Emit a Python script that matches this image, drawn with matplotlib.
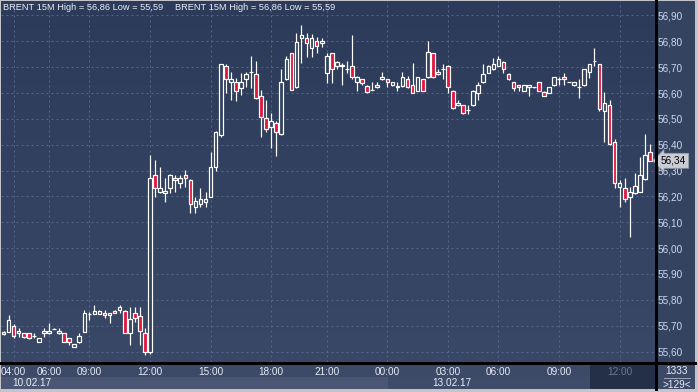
import matplotlib
matplotlib.use('Agg')
import matplotlib.pyplot as plt
import numpy as np
from matplotlib.patches import Rectangle
from matplotlib.lines import Line2D
from matplotlib.colors import LinearSegmentedColormap

plt.rcParams['font.family'] = ['Liberation Sans', 'DejaVu Sans']

# ---------------- data (15-minute BRENT candles) ----------------
opens = [55.677, 55.677, 55.699, 55.671, 55.671, 55.671, 55.661, 55.638, 55.671, 55.671,
         55.689, 55.671, 55.671, 55.651, 55.619, 55.638, 55.677, 55.744, 55.745, 55.745,
         55.749, 55.742, 55.758, 55.761, 55.758, 55.673, 55.749, 55.738, 55.671, 55.600,
         56.283, 56.218, 56.212, 56.232, 56.270, 56.251, 56.283, 56.264, 56.160, 56.170,
         56.180, 56.199, 56.315, 56.438, 56.705, 56.642, 56.644, 56.621, 56.653, 56.680,
         56.674, 56.590, 56.502, 56.470, 56.483, 56.440, 56.653, 56.754, 56.622, 56.812,
         56.812, 56.773, 56.801, 56.792, 56.679, 56.754, 56.705, 56.706, 56.692, 56.705,
         56.642, 56.653, 56.628, 56.611, 56.622, 56.653, 56.653, 56.631, 56.625, 56.628,
         56.653, 56.631, 56.609, 56.653, 56.661, 56.754, 56.673, 56.693, 56.705, 56.609,
         56.553, 56.553, 56.534, 56.553, 56.601, 56.642, 56.679, 56.692, 56.705, 56.721,
         56.674, 56.642, 56.630, 56.609, 56.622, 56.622, 56.642, 56.603, 56.601, 56.630,
         56.653, 56.661, 56.642, 56.630, 56.622, 56.630, 56.680, 56.723, 56.711, 56.532,
         56.553, 56.409, 56.238, 56.232, 56.199, 56.212, 56.218, 56.266, 56.371]
highs = [55.680, 55.741, 55.707, 55.690, 55.673, 55.673, 55.673, 55.651, 55.690, 55.709,
         55.690, 55.690, 55.673, 55.653, 55.630, 55.671, 55.761, 55.754, 55.780, 55.761,
         55.761, 55.750, 55.761, 55.780, 55.761, 55.774, 55.774, 55.774, 55.690, 56.360,
         56.341, 56.315, 56.270, 56.285, 56.283, 56.283, 56.302, 56.266, 56.199, 56.232,
         56.218, 56.373, 56.452, 56.714, 56.714, 56.683, 56.657, 56.676, 56.683, 56.743,
         56.725, 56.612, 56.573, 56.522, 56.492, 56.692, 56.743, 56.756, 56.831, 56.863,
         56.831, 56.828, 56.818, 56.812, 56.756, 56.756, 56.725, 56.717, 56.725, 56.825,
         56.666, 56.655, 56.630, 56.644, 56.644, 56.683, 56.655, 56.644, 56.644, 56.683,
         56.666, 56.715, 56.663, 56.655, 56.801, 56.756, 56.692, 56.712, 56.707, 56.611,
         56.573, 56.555, 56.553, 56.611, 56.644, 56.712, 56.707, 56.735, 56.743, 56.723,
         56.676, 56.644, 56.633, 56.633, 56.633, 56.623, 56.644, 56.609, 56.624, 56.663,
         56.661, 56.676, 56.643, 56.644, 56.653, 56.694, 56.713, 56.773, 56.713, 56.603,
         56.573, 56.421, 56.264, 56.273, 56.238, 56.292, 56.354, 56.442, 56.403]
lows = [55.665, 55.676, 55.651, 55.658, 55.651, 55.649, 55.651, 55.636, 55.658, 55.669,
        55.688, 55.669, 55.636, 55.625, 55.618, 55.632, 55.676, 55.722, 55.744, 55.744,
        55.729, 55.709, 55.749, 55.749, 55.671, 55.625, 55.716, 55.625, 55.587, 55.590,
        56.199, 56.212, 56.180, 56.212, 56.218, 56.232, 56.238, 56.137, 56.137, 56.160,
        56.160, 56.197, 56.300, 56.431, 56.601, 56.573, 56.570, 56.592, 56.625, 56.618,
        56.578, 56.431, 56.450, 56.386, 56.356, 56.438, 56.651, 56.610, 56.620, 56.715,
        56.741, 56.741, 56.754, 56.779, 56.640, 56.640, 56.692, 56.631, 56.679, 56.653,
        56.609, 56.630, 56.600, 56.610, 56.620, 56.650, 56.625, 56.628, 56.609, 56.625,
        56.620, 56.600, 56.607, 56.607, 56.660, 56.660, 56.671, 56.653, 56.601, 56.539,
        56.551, 56.520, 56.520, 56.551, 56.573, 56.640, 56.677, 56.690, 56.703, 56.679,
        56.651, 56.609, 56.609, 56.607, 56.590, 56.621, 56.607, 56.588, 56.599, 56.628,
        56.630, 56.630, 56.641, 56.628, 56.580, 56.628, 56.660, 56.705, 56.530, 56.409,
        56.400, 56.232, 56.160, 56.180, 56.042, 56.210, 56.216, 56.262, 56.336]
closes = [55.669, 55.722, 55.662, 55.681, 55.658, 55.651, 55.661, 55.651, 55.681, 55.678,
          55.689, 55.681, 55.638, 55.636, 55.629, 55.660, 55.750, 55.746, 55.758, 55.758,
          55.742, 55.749, 55.750, 55.774, 55.673, 55.725, 55.729, 55.680, 55.600, 56.270,
          56.232, 56.232, 56.221, 56.283, 56.264, 56.270, 56.270, 56.171, 56.182, 56.189,
          56.189, 56.315, 56.450, 56.712, 56.653, 56.653, 56.609, 56.644, 56.674, 56.682,
          56.580, 56.509, 56.460, 56.492, 56.450, 56.641, 56.731, 56.612, 56.799, 56.825,
          56.792, 56.812, 56.782, 56.801, 56.743, 56.692, 56.721, 56.708, 56.693, 56.661,
          56.661, 56.640, 56.603, 56.613, 56.631, 56.661, 56.642, 56.642, 56.626, 56.661,
          56.622, 56.601, 56.661, 56.609, 56.760, 56.661, 56.681, 56.694, 56.622, 56.541,
          56.563, 56.522, 56.535, 56.609, 56.631, 56.673, 56.705, 56.712, 56.731, 56.692,
          56.653, 56.621, 56.622, 56.631, 56.631, 56.622, 56.609, 56.590, 56.622, 56.661,
          56.654, 56.653, 56.642, 56.642, 56.623, 56.692, 56.711, 56.724, 56.538, 56.560,
          56.402, 56.251, 56.251, 56.189, 56.218, 56.240, 56.283, 56.360, 56.338]

time_tick_idx = [2, 9, 17, 29, 41, 53, 64, 76, 88, 98, 110, 122]
time_tick_labels = ['04:00', '06:00', '09:00', '12:00', '15:00', '18:00', '21:00',
                    '00:00', '03:00', '06:00', '09:00', '12:00']
date_labels = ['10.02.17', '13.02.17']
price_ticks = [55.60, 55.70, 55.80, 55.90, 56.00, 56.10, 56.20, 56.30, 56.40,
               56.50, 56.60, 56.70, 56.80, 56.90]
header = 'BRENT 15M High = 56,86 Low = 55,59'
bar_count = '1333'
visible = '>129<'

# ---------------- figure / layout ----------------
W, H = 698, 392
fig = plt.figure(figsize=(W / 100, H / 100), dpi=100)
fig.patch.set_facecolor('#c3c5ca')
PX = 0.72  # one pixel in points


def fr(x0, y0, x1, y1):
    return (x0 / W, 1 - y1 / H, (x1 - x0) / W, (y1 - y0) / H)


def add_rect(x0, y0, x1, y1, color, z=-1):
    l, b, w, h = fr(x0, y0, x1, y1)
    fig.patches.append(Rectangle((l, b), w, h, transform=fig.transFigure,
                                 facecolor=color, edgecolor='none', zorder=z))


def add_line(x0, y0, x1, y1, color, lw=PX, z=4):
    fig.lines.append(Line2D([x0 / W, x1 / W], [1 - y0 / H, 1 - y1 / H],
                            transform=fig.transFigure, color=color, lw=lw,
                            zorder=z, antialiased=False))


BG = '#34435f'
add_rect(655, 1, 695, 362, BG)
add_rect(1, 362, 655, 377, '#3c4967')
add_rect(1, 377, 388, 389, '#4a5673')
add_rect(388, 377, 590, 389, '#3e4b69')
add_rect(590, 362, 655, 389, '#243048')
add_rect(655, 362, 695, 389, '#3c4967')

ax = fig.add_axes(fr(1, 1, 655, 362))
for s in ax.spines.values():
    s.set_visible(False)

cmap = LinearSegmentedColormap.from_list('bg', ['#2c3b5a', '#3a4867'])
ax.imshow(np.linspace(0, 1, 256).reshape(-1, 1), cmap=cmap, aspect='auto',
          extent=[0, 1, 0, 1], transform=ax.transAxes, zorder=0)

x = np.arange(len(opens))
o = np.array(opens)
c = np.array(closes)
ax.vlines(x, lows, highs, colors='white', linewidth=PX * 1.2, zorder=2)
fills = np.where(c < o, '#e0163c', BG)
ax.bar(x, np.abs(c - o), bottom=np.minimum(o, c), width=0.72, color=fills,
       edgecolor='white', linewidth=PX * 1.2, zorder=3)

ax.set_xlim(-0.5, 129.0)
ax.set_ylim(55.5596, 56.956)

ax.set_xticks(time_tick_idx)
ax.set_xticklabels(time_tick_labels)
ax.set_yticks(price_ticks)
ax.set_yticklabels([f'{v:.2f}'.replace('.', ',') for v in price_ticks])
ax.yaxis.tick_right()
ax.tick_params(axis='y', length=0, pad=1.8, labelsize=7.2, labelcolor='#cbd9ee')
ax.tick_params(axis='x', length=0, pad=3.5, labelsize=7.2, labelcolor='#e6ecf5')
ax.get_xticklabels()[-1].set_color('#6d7890')
ax.set_axisbelow(True)
ax.grid(True, color='#56668a', linestyle=(0, (2, 3)), linewidth=PX)

# last price marker
ax.text(1.0 + 6 / 654, closes[-1], f'{closes[-1]:.2f}'.replace('.', ','),
        transform=ax.get_yaxis_transform(), va='center', ha='left', fontsize=7.2,
        color='black', clip_on=False, zorder=6,
        bbox=dict(boxstyle='larrow,pad=0.25', fc='#c9ccd3', ec='#8f96a3', lw=0.5))

# separators
add_line(655.5, 0, 655.5, 389, 'black', lw=PX * 1.4)
add_line(1, 362.5, 695, 362.5, 'black', lw=PX * 1.4)
add_line(664, 378, 690, 378, '#9aa3b5')

# texts
txt = dict(color='#e8eef8', va='center')
fig.text(3 / W, 1 - 8 / H, header, fontsize=6.7, **txt)
fig.text(175 / W, 1 - 8 / H, header, fontsize=6.7, **txt)
fig.text(12 / W, 1 - 383 / H, date_labels[0], fontsize=7.2, **txt)
fig.text(432 / W, 1 - 383 / H, date_labels[1], fontsize=7.2, **txt)
fig.text(677 / W, 1 - 371 / H, bar_count, ha='center', fontsize=7.2, **txt)
fig.text(677 / W, 1 - 384.5 / H, visible, ha='center', fontsize=7.2, **txt)

fig.savefig('out.png', dpi=100, facecolor=fig.get_facecolor())
